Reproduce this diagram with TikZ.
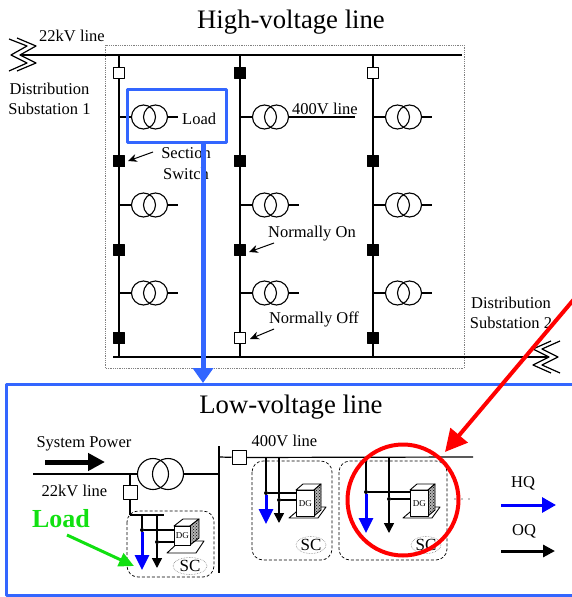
\documentclass[tikz,border=0pt]{standalone}
\usepackage{fontspec}
\setmainfont{Liberation Serif}
\usetikzlibrary{arrows.meta,patterns,shapes.geometric}
\definecolor{boxblue}{HTML}{3366FF}
\definecolor{loadgreen}{HTML}{11E011}
\tikzset{
	lbl/.style={font=\fontsize{16.5}{18}\selectfont,inner sep=0pt,yshift=-1.5pt},
	ttl/.style={font=\fontsize{26.7}{28}\selectfont,inner sep=0pt,yshift=-2pt},
	bus/.style={line width=2pt},
	thin line/.style={line width=1.2pt},
	swon/.style={draw,fill=black,line width=0.8pt,minimum size=11pt,inner sep=0pt},
	swoff/.style={draw,fill=white,line width=1pt,minimum size=11pt,inner sep=0pt},
	xfmr/.style={circle,draw,line width=1.1pt,minimum size=24pt,inner sep=0pt},
	scbox/.style={draw,densely dashed,line width=0.7pt,rounded corners=11pt},
	sctag/.style={ellipse,draw=gray,densely dotted,line width=0.6pt,inner sep=0pt,font=\fontsize{17}{18}\selectfont},
	dgbox/.style={draw,fill=white,line width=0.9pt,anchor=north west,inner sep=0pt,font=\fontsize{9}{10}\selectfont},
	dot/.style={circle,fill=black,inner sep=0pt,minimum size=4pt},
}
\begin{document}
\begin{tikzpicture}[x=1pt,y=-1pt,>={Stealth[width=8pt,length=9pt]},line join=round]
	\useasboundingbox (0,0) rectangle (572,597);
	% High-voltage part
	\node[ttl] (hvtitle) at (291,20) {High-voltage line};
	\draw[densely dotted,gray,line width=0.8pt] (105,45) rectangle (464,368);
	\coordinate (hvl) at (20,55); \coordinate (hvr) at (462,55);
	\coordinate (lvl) at (113,357); \coordinate (lvr) at (549,357);
	\draw[bus] (hvl)--(hvr);
	\draw[bus] (lvl)--(lvr);
	\draw[thin line] (17,38)--(36,46)--(20,55)--(36,63)--(17,71);
	\draw[thin line] (9,39)--(27,46)--(11,55)--(27,63)--(9,71);
	\draw[thin line] (560,341)--(542,349)--(558,357)--(542,365)--(560,373);
	\draw[thin line] (551,341)--(533,349)--(549,357)--(533,365)--(551,373);
	\node[lbl] (kvtop) at (72,34.5) {22kV line};
	\node[lbl] (subone) at (49.5,87.5) {Distribution};
	\node[lbl] (subonb) at (49.5,107.5) {Substation 1};
	\node[lbl] (subtwo) at (511,301.5) {Distribution};
	\node[lbl] (subtwb) at (511,321.5) {Substation 2};
	% feeders and transformers
	\foreach \c/\x in {a/119,b/240,c/373}{
		\coordinate (top\c) at (\x,55); \coordinate (bot\c) at (\x,357);
		\draw[bus] (top\c)--(bot\c);
		\foreach \r/\y in {1/117,2/205,3/293}{
			\coordinate (tap\c\r) at (\x,\y); \coordinate (out\c\r) at (\x+59,\y);
			\node[xfmr] (xl\c\r) at (\x+24.5,\y) {};
			\node[xfmr] (xr\c\r) at (\x+36.5,\y) {};
			\draw[thin line] (tap\c\r)--(xl\c\r.west) (xr\c\r.east)--(out\c\r);
		}
	}
	\foreach \n/\x/\y in {a1/119/161,a2/119/250,a3/119/338,b0/240/73,b1/240/161,b2/240/250,c1/373/161,c2/373/250,c3/373/338}
		\node[swon] (sw\n) at (\x,\y) {};
	\foreach \n/\x/\y in {a0/119/73,b3/240/338,c0/373/73}
		\node[swoff] (sw\n) at (\x,\y) {};
	\coordinate (lineend) at (355,117);
	\draw[thin line] (xrb1.east)--(lineend);
	\node[lbl] (lvlabel) at (325,107.5) {400V line};
	\node[lbl,anchor=west] (loadtxt) at (182,117) {Load};
	\node[lbl] (secta) at (186,152) {Section};
	\node[lbl] (sectb) at (186,172) {Switch};
	\node[lbl] (non) at (312,232) {Normally On};
	\node[lbl] (noff) at (314,318) {Normally Off};
	\coordinate (secttail) at (153,152); \coordinate (nontail) at (274,243); \coordinate (nofftail) at (274,329);
	\draw[->,line width=1pt] (secttail)--(128,161);
	\draw[->,line width=1pt] (nontail)--(249,252);
	\draw[->,line width=1pt] (nofftail)--(250,339);
	% blue frames
	\node[draw=boxblue,line width=3pt,minimum width=99pt,minimum height=53pt,inner sep=0pt] (loadbox) at (176.5,115.5) {};
	\coordinate (lowtop) at (203,383);
	\draw[boxblue,line width=5pt,-{Triangle[width=20pt,length=15pt]}] ([xshift=26.5pt]loadbox.south)--(lowtop);
	\draw[boxblue,line width=3pt] (572,384)--(6,384)--(6,595)--(572,595);
	% Low-voltage part
	\node[ttl] (lvtitle) at (291,405) {Low-voltage line};
	\node[lbl] (syspow) at (84,442) {System Power};
	\node[lbl] (kvlow) at (74.5,489) {22kV line};
	\node[lbl] (lvtxt) at (284.5,439.5) {400V line};
	\coordinate (powa) at (45,462); \coordinate (powb) at (105,462);
	\draw[line width=5pt,-{Triangle[width=17pt,length=17pt]}] (powa)--(powb);
	\coordinate (kvl) at (33,474); \coordinate (barup) at (219,446); \coordinate (bardn) at (219,573);
	\coordinate (barmid) at (219,474); \coordinate (barsw) at (219,457); \coordinate (bar4) at (473,457);
	\coordinate (kvtap) at (130,474); \coordinate (scbus) at (130,515); \coordinate (scend) at (164,515);
	\node[xfmr,minimum size=31pt] (xlow) at (153,474) {};
	\node[xfmr,minimum size=31pt] (xlob) at (168,474) {};
	\draw[thin line] (kvl)--(xlow.west) (xlob.east)--(barmid);
	\draw[bus] (barup)--(bardn);
	\node[swoff,minimum size=14pt] (swlow) at (239,457.5) {};
	\node[swoff,minimum size=14pt] (swkv) at (130,492.5) {};
	\draw[thin line] (barsw)--(swlow) (swlow)--(bar4);
	\draw[thin line] (kvtap)--(swkv) (swkv)--(scbus);
	\draw[bus] (scbus)--(scend);
	% SC groups
	\draw[scbox] (127,511) rectangle (214,577);
	\draw[scbox] (252,461) rectangle (332,560);
	\draw[scbox] (339,461) rectangle (447,560);
	\node[sctag,minimum width=34pt,minimum height=17pt] (sca) at (190,566) {SC};
	\node[sctag,minimum width=30pt,minimum height=17pt] (scb) at (311,545) {SC};
	\node[sctag,minimum width=30pt,minimum height=17pt] (scc) at (426,545) {SC};
	\foreach \n/\x/\y/\w/\h/\d/\e/\p/\q in {a/174/526/16/19/9/7/27/15,b/296/490/18/26/7/6/28/17,c/410/490/18/26/7/6/28/17}{
		\draw[fill=white,line width=0.9pt] (\x-7,\y+\p)--(\x+22,\y+\p)--(\x+30,\y+\q)--(\x+6,\y+\q)--cycle;
		\draw[fill=white,line width=0.9pt] (\x,\y)--(\x+\d,\y-\e)--(\x+\w+\d,\y-\e)--(\x+\w,\y)--cycle;
		\draw[fill=gray!60,line width=0.9pt,postaction={pattern=crosshatch dots}] (\x+\w,\y)--(\x+\w+\d,\y-\e)--(\x+\w+\d,\y+\h-\e)--(\x+\w,\y+\h)--cycle;
		\node[dgbox,minimum width=\w pt,minimum height=\h pt] (dg\n) at (\x,\y) {DG};
	}
	\foreach \n/\ax/\ay/\at/\bx/\by/\bt/\rt in {a/142/530/570/157/542/568/515,b/266/493/524/279/500/523/457,c/366/492/533/389/499/533/457}{
		\coordinate (ra\n) at (\ax,\rt); \coordinate (rb\n) at (\bx,\rt);
		\coordinate (ta\n) at (\ax,\at); \coordinate (tb\n) at (\bx,\bt);
		\node[dot] (da\n) at (\ax,\ay) {};
		\node[dot] (db\n) at (\bx,\by) {};
		\draw[bus] (ra\n)--(da\n);
		\draw[bus] (rb\n)--(db\n);
		\draw[thin line] (da\n)--(da\n-|dg\n.west) (db\n)--(db\n-|dg\n.west);
		\draw[blue,line width=3pt,-{Triangle[width=14pt,length=15pt]}] (da\n)--(ta\n);
		\draw[line width=1.5pt,-{Triangle[width=10pt,length=10pt]}] (db\n)--(tb\n);
	}
	\foreach \x in {455,462,469}
		\fill (\x,499) circle(0.6pt);
	% legend
	\node[lbl] (hqtxt) at (523,482) {HQ};
	\node[lbl] (oqtxt) at (524,530) {OQ};
	\coordinate (hqa) at (501,505); \coordinate (hqb) at (556,505);
	\coordinate (oqa) at (501,551); \coordinate (oqb) at (555,551);
	\draw[blue,line width=3pt,-{Triangle[width=15pt,length=14pt]}] (hqa)--(hqb);
	\draw[line width=3pt,-{Triangle[width=12pt,length=12pt]}] (oqa)--(oqb);
	% highlights
	\node[font=\fontsize{26}{28}\bfseries\selectfont,text=loadgreen,inner sep=0pt] (loadgr) at (61,519) {Load};
	\coordinate (gra) at (67,535); \coordinate (grb) at (134,566);
	\draw[loadgreen,line width=3pt,-{Triangle[width=14pt,length=15pt]}] (gra)--(grb);
	\node[circle,draw=red,line width=4pt,minimum size=111pt,inner sep=0pt] (focus) at (403,500) {};
	\coordinate (reda) at (575,298); \coordinate (redb) at (445,452);
	\draw[red,line width=4pt,-{Triangle[width=22pt,length=22pt]}] (reda)--(redb);
\end{tikzpicture}
\end{document}
